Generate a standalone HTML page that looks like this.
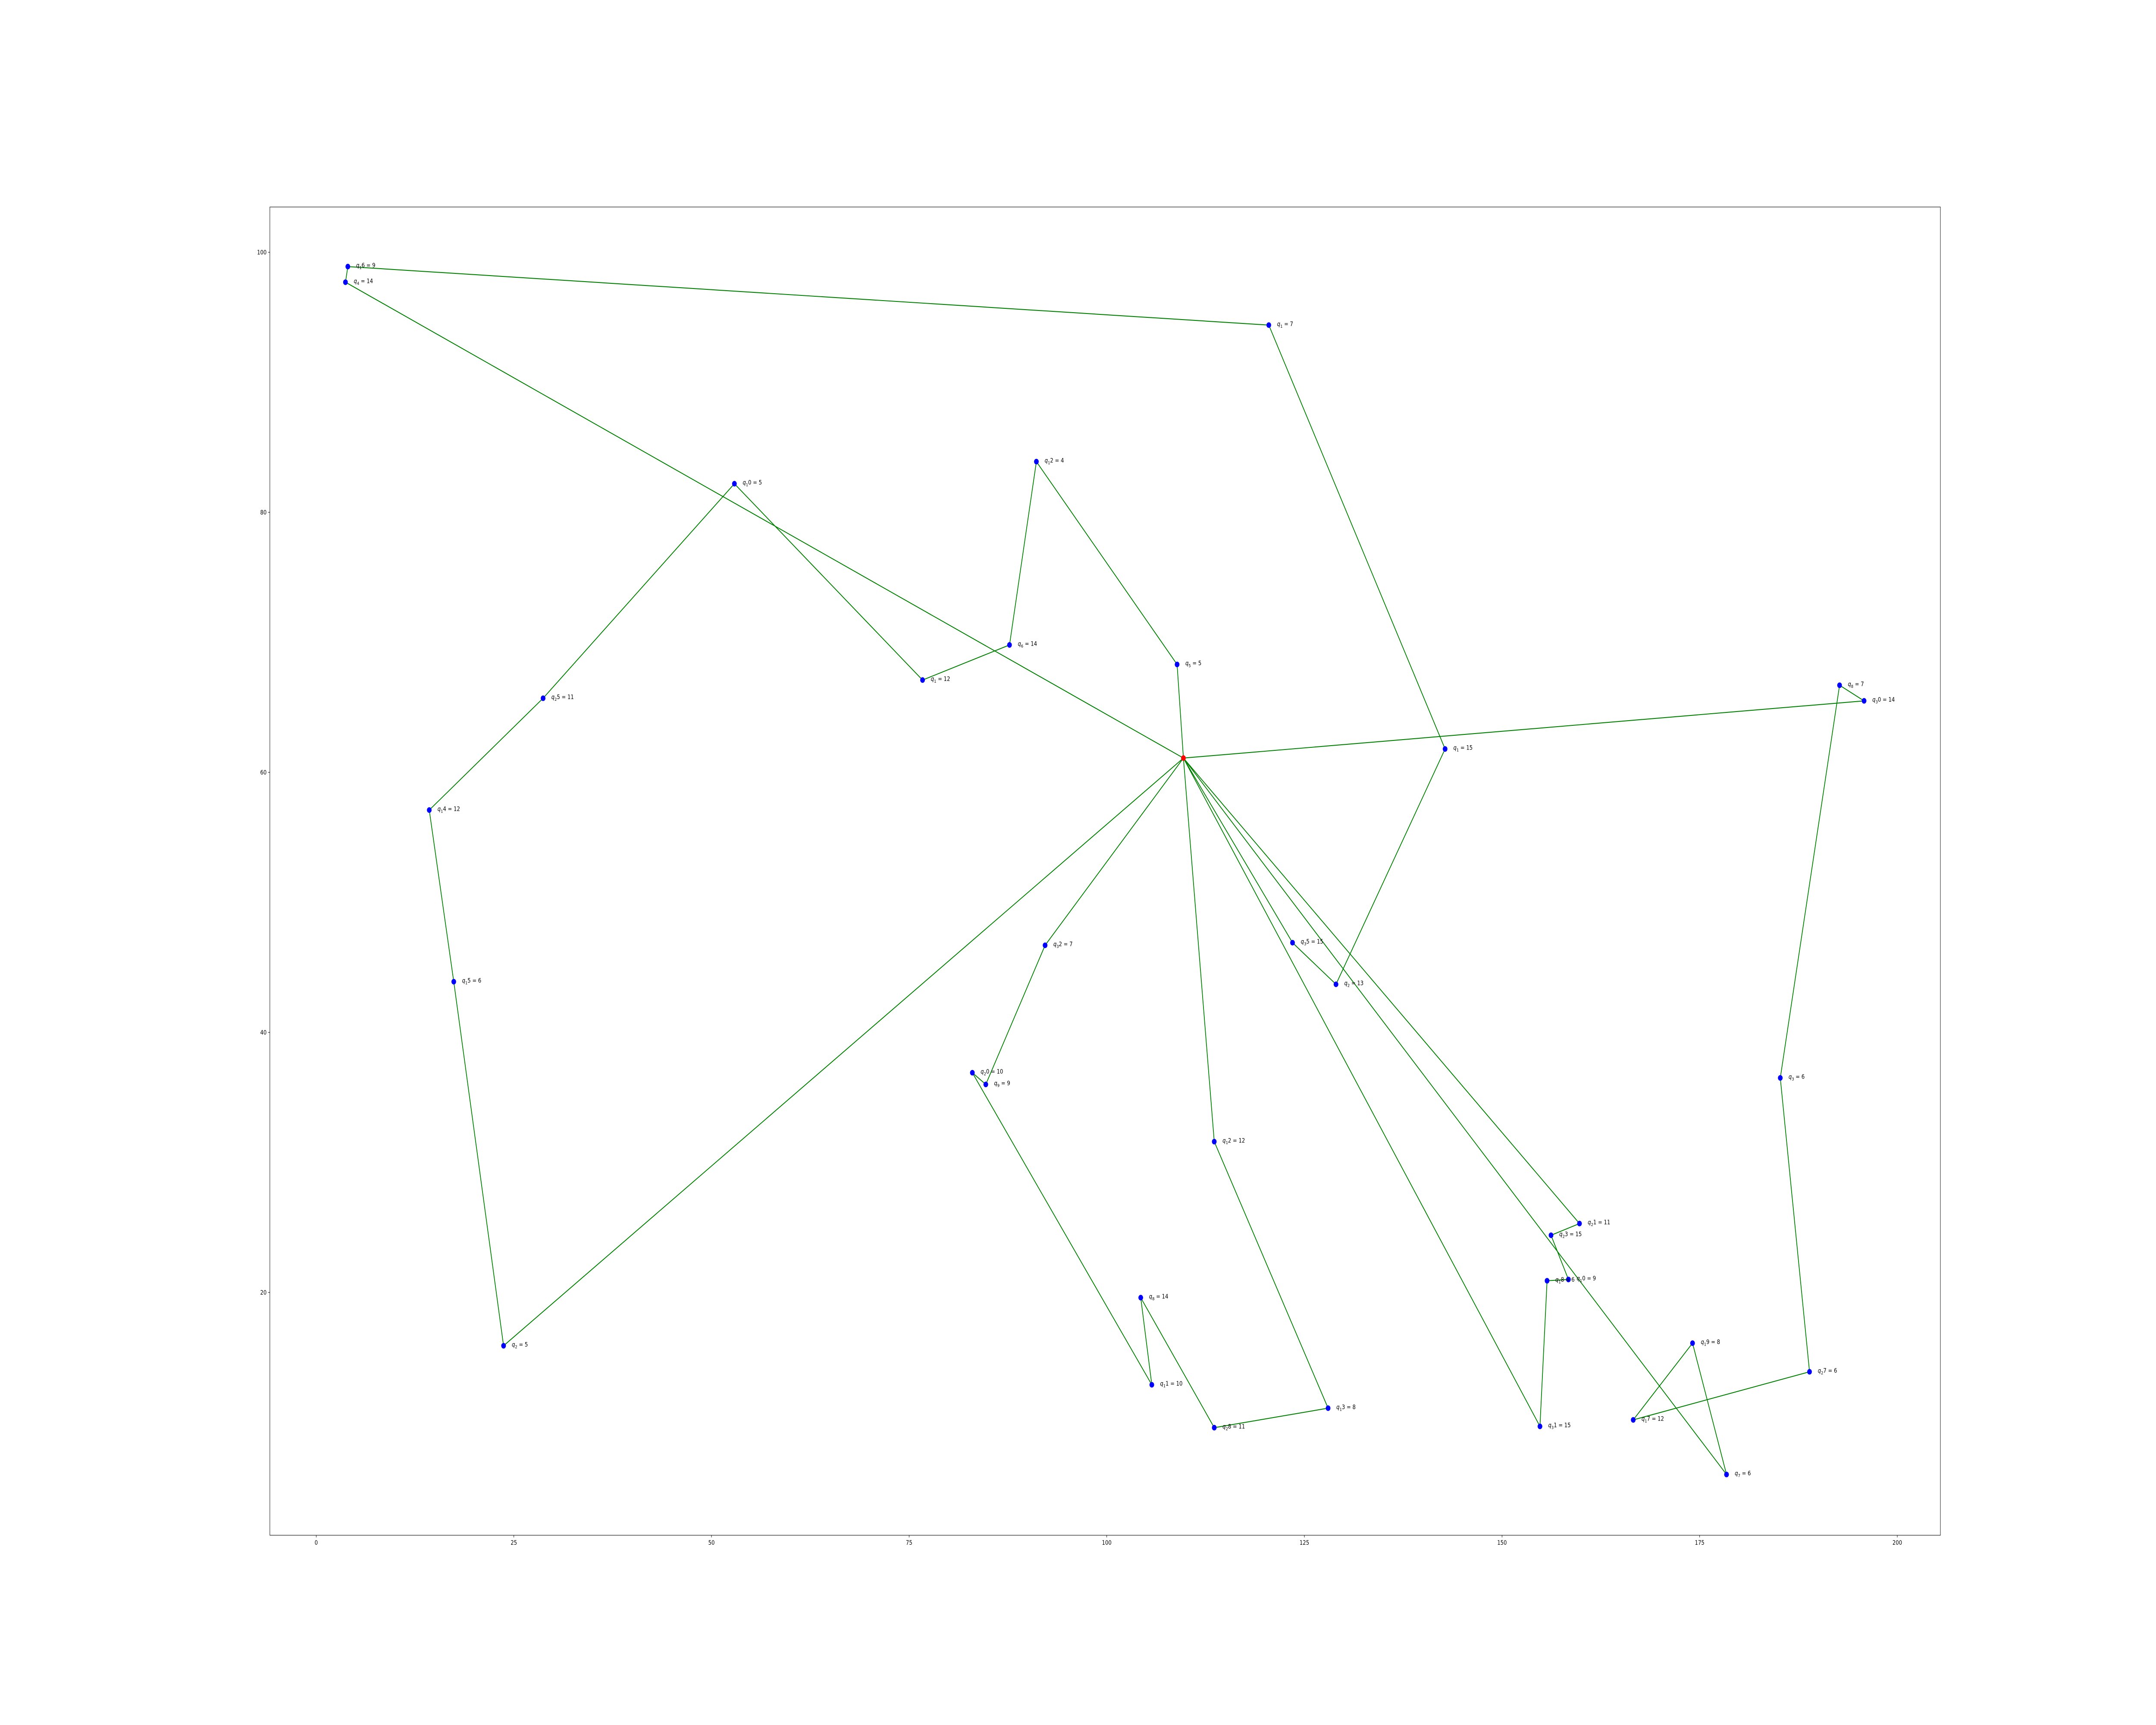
<!DOCTYPE html>
<html><head><meta charset="utf-8"><style>
html,body{margin:0;padding:0;background:#fff;width:100%;height:100%;overflow:hidden;}
svg{display:block;width:100vw;height:100vh;font-family:"DejaVu Sans","Liberation Sans",sans-serif;}
</style></head><body>
<svg id="chart" viewBox="0 0 6000 4000" preserveAspectRatio="none" xmlns="http://www.w3.org/2000/svg">
<rect width="6000" height="4000" fill="#fff"/>
<g id="lines"></g>
<g id="pts"></g>
<g id="axes"></g>
</svg>
<script>
const depot = [109.7, 61.1];
const custX = [3.7,4.0,120.5,142.8,129.0,123.5, 23.7,17.4,14.3,28.7,52.9,76.7,87.7,91.1,108.9, 92.2,84.7,83.0,105.7,104.3,113.6,128.0,113.6, 195.8,192.7,185.2,188.9,166.6,174.1,178.4, 159.8,156.2,158.4,155.7,154.8];
const custY = [97.7,98.9,94.4,61.8,43.7,46.9, 15.9,43.9,57.1,65.7,82.2,67.1,69.8,83.9,68.3, 46.7,36.0,36.9,12.9,19.6,9.6,11.1,31.6, 65.5,66.7,36.5,13.9,10.2,16.1,6.0, 25.3,24.4,21.0,20.9,9.7];
const labelIds = ["4","16","1","1","2","35", "2","15","14","25","10","1","6","12","5", "32","9","20","11","8","28","13","12", "30","8","3","27","17","19","7", "21","23","10","18","31"];
const demands = ["14","9","7","15","13","15", "5","6","12","11","5","12","14","4","5", "7","9","10","10","14","11","8","12", "14","7","6","6","12","8","6", "11","15","9","6","15"];
const routes = [[0,1,2,3,4,5],[6,7,8,9,10,11,12,13,14],[15,16,17,18,19,20,21,22],[29,28,27,26,25,24,23],[30,31,32,33,34]];
const xTicks = [0,25,50,75,100,125,150,175,200];
const yTicks = [20,40,60,80,100];

const L=751,R=5400,T=480,B=3560;
const sx = v => 880 + v*22.0;
const sy = v => 2997 - (v-20)*30.15;
const NS="http://www.w3.org/2000/svg";
function mk(tag, attrs, parent){const e=document.createElementNS(NS,tag);for(const k in attrs)e.setAttribute(k,attrs[k]);parent.appendChild(e);return e;}
const gl=document.getElementById('lines'), gp=document.getElementById('pts'), ga=document.getElementById('axes');

routes.forEach((r,ri)=>{
  const pts=[depot].concat(r.map(i=>[custX[i],custY[i]])).concat([depot]);
  const p=mk('polyline',{points:pts.map(q=>sx(q[0])+','+sy(q[1])).join(' '),fill:'none',stroke:'#008000','stroke-width':2.1},gl);
  
  
});
custX.forEach((x,i)=>{
  const c=mk('circle',{cx:sx(x),cy:sy(custY[i]),r:6.5,fill:'#0000ff'},gp);
  
  
  const id=labelIds[i];
  const t=mk('text',{x:sx(x)+23,y:sy(custY[i])+2,'font-size':14,fill:'#000'},gp);
  
  
  const a=mk('tspan',{'font-style':'italic'},t);a.textContent='q';
  const b=mk('tspan',{'font-size':10,dy:4},t);b.textContent=id[0];
  const c2=mk('tspan',{dy:-4},t);c2.textContent=id.slice(1)+' = '+demands[i];
});
const d=mk('circle',{cx:sx(depot[0]),cy:sy(depot[1]),r:6.5,fill:'#ff0000'},gp);



const fr=mk('rect',{x:L,y:T,width:R-L,height:B-T,fill:'none',stroke:'#000','stroke-width':1.1},ga);


xTicks.forEach(v=>{
  const x=sx(v);
  const tk=mk('line',{x1:x,x2:x,y1:B,y2:B+5,stroke:'#000','stroke-width':1.1},ga);
  
  
  const t=mk('text',{x:x,y:B+22,'font-size':14,'text-anchor':'middle'},ga);
  
  
  t.textContent=v;
});
yTicks.forEach(v=>{
  const y=sy(v);
  const tk=mk('line',{x1:L-5,x2:L,y1:y,y2:y,stroke:'#000','stroke-width':1.1},ga);
  
  
  const t=mk('text',{x:L-9,y:y+5,'font-size':14,'text-anchor':'end'},ga);
  
  
  t.textContent=v;
});
</script>
</body></html>
